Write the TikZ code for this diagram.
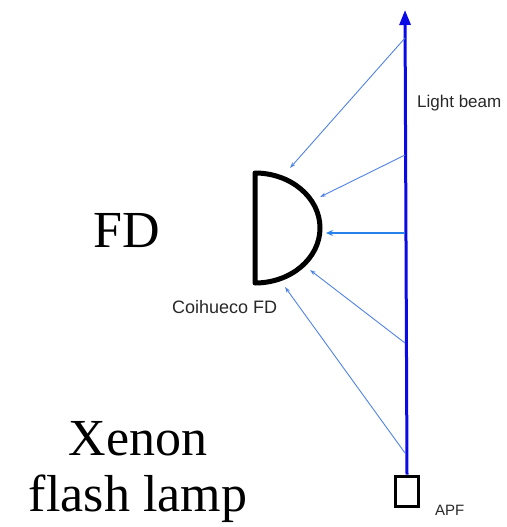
\documentclass[tikz,border=0pt]{standalone}
\usepackage{fontspec}
\setmainfont{Liberation Serif}
\setsansfont{Liberation Sans}
\usetikzlibrary{arrows.meta}
\definecolor{beamblue}{RGB}{10,10,230}
\definecolor{rayblue}{RGB}{80,130,230}
\definecolor{midblue}{RGB}{40,130,235}
\definecolor{labelgray}{RGB}{40,40,40}
\begin{document}
\begin{tikzpicture}[x=1pt,y=-1pt,
  ray/.style={-{Stealth[length=6pt,width=4pt]},line width=0.9pt,rayblue},
  big/.style={font=\fontsize{52}{56}\selectfont,inner sep=0,anchor=base,align=center},
  small/.style={font=\sffamily\fontsize{#1}{#1}\selectfont,text=labelgray,inner sep=0,anchor=base west}]
\useasboundingbox(0,0)rectangle(506,527);
% light beam from the lamp
\node[draw,line width=3pt,minimum width=23pt,minimum height=30pt,inner sep=0](apf)at(407,491){};
\coordinate(tip)at(405,10);
\draw[line width=3pt,beamblue,-{Triangle[length=15pt,width=11pt]}](apf.north)--(tip);
% detector
\draw[line width=5pt,line join=round](255,173)--(255,283)arc[start angle=90,end angle=-90,x radius=65,y radius=55]--cycle;
% scattered light
\foreach \y/\ex/\ey [count=\k] in {38/290/168,155/320/197,343/310/270,453/285/287}{
  \coordinate(b\k)at(405,\y);\coordinate(d\k)at(\ex,\ey);
  \draw[ray](b\k)--(d\k);}
\coordinate(b0)at(405,233);\coordinate(d0)at(326,233);
\draw[ray,midblue,line width=2.4pt,-{Stealth[length=7pt,width=6pt]}](b0)--(d0);
% labels
\node[big](fd)at(127,247){FD};
\node[big](lamp)at(138,511){Xenon\\flash lamp};
\node[small=17](beam)at(417,107){Light beam};
\node[small=18](coi)at(172,313){Coihueco FD};
\node[small=15](apflabel)at(435,515){APF};
\end{tikzpicture}
\end{document}
